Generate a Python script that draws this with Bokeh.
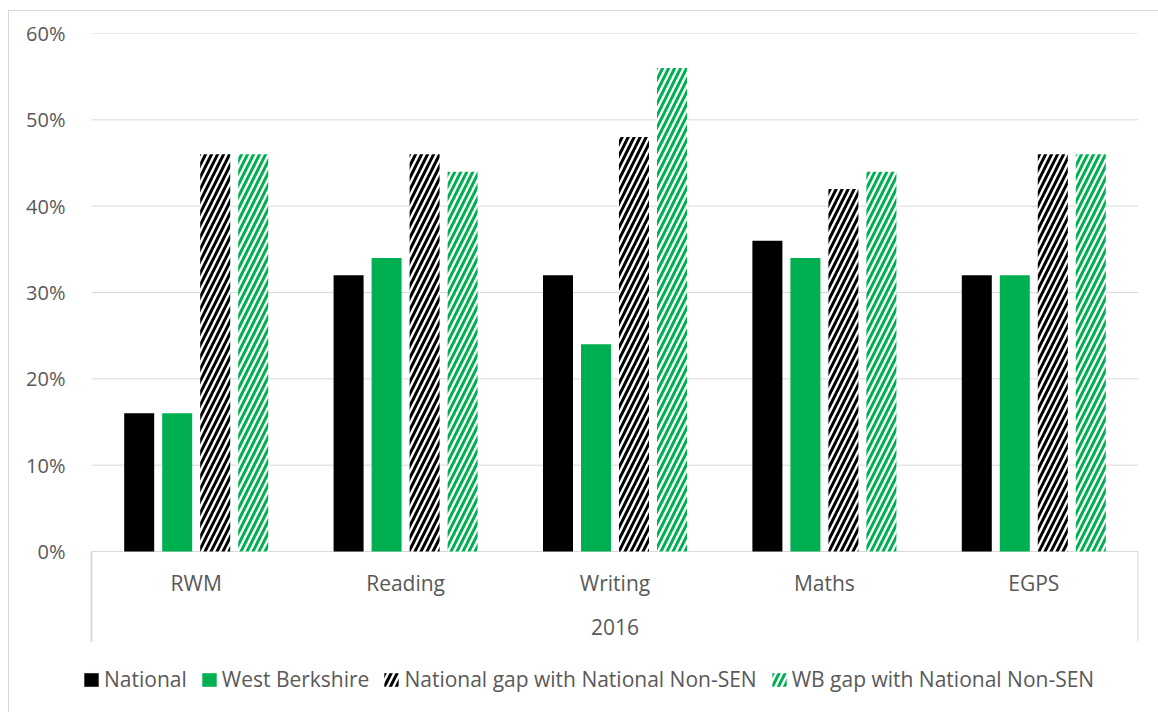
from bokeh.plotting import figure
from bokeh.models import Range1d, FixedTicker, NumeralTickFormatter, Legend, LegendItem, ColumnDataSource
from bokeh.core.properties import value
from bokeh.embed import file_html
from bokeh.resources import INLINE

categories = ["RWM", "Reading", "Writing", "Maths", "EGPS"]
year_label = "2016"
series_names = ["National", "West Berkshire", "National gap with National Non-SEN", "WB gap with National Non-SEN"]
national = [0.16, 0.32, 0.32, 0.36, 0.32]
west_berkshire = [0.16, 0.34, 0.24, 0.34, 0.32]
national_gap = [0.46, 0.46, 0.48, 0.42, 0.46]
wb_gap = [0.46, 0.44, 0.56, 0.44, 0.46]
y_ticks = [0, 0.1, 0.2, 0.3, 0.4, 0.5, 0.6]

series = [national, west_berkshire, national_gap, wb_gap]

BLACK = "#000000"
GREEN = "#00B050"
TEXT = "#595959"
GRID = "#D9D9D9"
FONT = "Open Sans"

n = len(categories)
pad_left = 0.0573
p = figure(width=1150, height=702, output_backend="svg", toolbar_location=None,
           x_range=Range1d(-pad_left, n), y_range=Range1d(-0.18765, 0.6),
           min_border_left=70, min_border_right=21, min_border_top=22, min_border_bottom=0)
p.styles = {"border-left": f"1px solid {GRID}", "border-top": f"1px solid {GRID}"}
p.margin = (10, 0, 0, 8)
p.outline_line_color = None
p.xaxis.visible = False
p.xgrid.visible = False
p.ygrid.visible = False
p.yaxis.ticker = FixedTicker(ticks=y_ticks)
p.yaxis.formatter = NumeralTickFormatter(format="0%")
p.yaxis.axis_line_color = None
p.yaxis.major_tick_line_color = None
p.yaxis.minor_tick_line_color = None
p.yaxis.major_tick_out = 0
p.yaxis.major_tick_in = 0
p.yaxis.major_label_standoff = 14
p.yaxis.major_label_text_font = FONT
p.yaxis.major_label_text_font_size = "20px"
p.yaxis.major_label_text_color = TEXT

# horizontal gridlines over the category span
p.segment(x0=[0] * len(y_ticks), y0=y_ticks, x1=[n] * len(y_ticks), y1=y_ticks, line_color=GRID, line_width=1)

bar_w = 0.1433
step = 0.1815
centers = [i + 0.5 for i in range(n)]
styles = [
    dict(fill_color=BLACK),
    dict(fill_color=GREEN),
    dict(fill_color="white", hatch_pattern="/", hatch_color=BLACK, hatch_scale=12, hatch_weight=3),
    dict(fill_color="white", hatch_pattern="/", hatch_color=GREEN, hatch_scale=12, hatch_weight=3),
]
renderers = []
for k, (vals, st) in enumerate(zip(series, styles)):
    xs = [c + (k - 1.5) * step for c in centers]
    src = ColumnDataSource(dict(x=xs, top=vals))
    r = p.vbar(x="x", top="top", bottom=0, width=bar_w, source=src, line_color=None, **st)
    renderers.append(r)

# outer separators of the category axis
edges = [0, n]
p.segment(x0=edges, y0=0, x1=edges, y1=-0.1043, line_color=GRID, line_width=2)
# category labels
p.text(x=centers, y=[-0.037] * n, text=categories, text_align="center", text_baseline="middle",
       text_font=value(FONT), text_font_size="21px", text_color=TEXT)
p.text(x=[n / 2], y=[-0.088], text=[year_label], text_align="center", text_baseline="middle",
       text_font=value(FONT), text_font_size="21px", text_color=TEXT)

legend = Legend(items=[LegendItem(label=nm, renderers=[r]) for nm, r in zip(series_names, renderers)],
                orientation="horizontal", location=(3, 20), padding=0, margin=0,
                border_line_color=None, background_fill_alpha=0,
                glyph_width=18, glyph_height=17, label_standoff=4, spacing=13, label_height=17,
                label_text_font=FONT, label_text_font_size="21px", label_text_color=TEXT)
p.add_layout(legend)

open("out.html", "w").write(file_html(p, INLINE))
